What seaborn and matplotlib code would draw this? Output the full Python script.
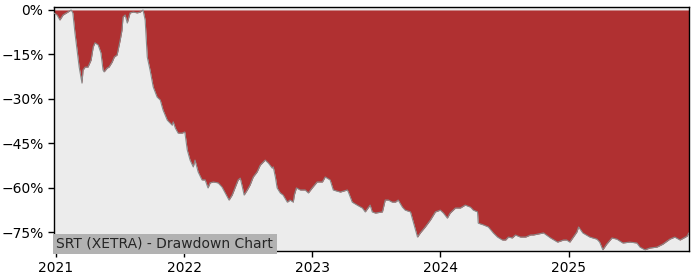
import matplotlib
matplotlib.use("Agg")
import matplotlib.pyplot as plt
import matplotlib.dates as mdates
from matplotlib.ticker import FuncFormatter, FixedLocator
import seaborn as sns
import pandas as pd

dates = [
    "2020-12-26", "2021-01-04", "2021-01-12", "2021-01-21", "2021-02-04", "2021-02-13",
    "2021-02-18", "2021-02-24", "2021-03-02", "2021-03-08", "2021-03-16", "2021-03-19",
    "2021-03-25", "2021-04-02", "2021-04-11", "2021-04-17", "2021-04-22", "2021-05-01",
    "2021-05-09", "2021-05-15", "2021-05-18", "2021-05-27", "2021-06-01", "2021-06-10",
    "2021-06-16", "2021-06-24", "2021-07-03", "2021-07-08", "2021-07-11", "2021-07-17",
    "2021-07-23", "2021-07-31", "2021-08-09", "2021-08-20", "2021-08-29", "2021-09-06",
    "2021-09-12", "2021-09-18", "2021-09-26", "2021-10-05", "2021-10-16", "2021-10-25",
    "2021-11-02", "2021-11-14", "2021-11-28", "2021-12-01", "2021-12-07", "2021-12-15",
    "2021-12-26", "2022-01-03", "2022-01-10", "2022-01-18", "2022-01-27", "2022-02-01",
    "2022-02-10", "2022-02-21", "2022-03-02", "2022-03-10", "2022-03-16", "2022-03-25",
    "2022-04-08", "2022-04-19", "2022-04-28", "2022-05-09", "2022-05-18", "2022-05-27",
    "2022-06-04", "2022-06-10", "2022-06-16", "2022-06-21", "2022-06-30", "2022-07-08",
    "2022-07-17", "2022-07-28", "2022-08-06", "2022-08-20", "2022-08-29", "2022-09-09",
    "2022-09-12", "2022-09-18", "2022-09-23", "2022-10-02", "2022-10-10", "2022-10-22",
    "2022-10-30", "2022-11-08", "2022-11-11", "2022-11-17", "2022-11-28", "2022-12-12",
    "2022-12-21", "2023-01-01", "2023-01-15", "2023-01-30", "2023-02-07", "2023-02-21",
    "2023-03-02", "2023-03-22", "2023-04-11", "2023-04-14", "2023-04-25", "2023-05-09",
    "2023-05-24", "2023-06-01", "2023-06-15", "2023-06-21", "2023-06-30", "2023-07-20",
    "2023-07-28", "2023-08-06", "2023-08-17", "2023-08-26", "2023-09-03", "2023-09-15",
    "2023-09-23", "2023-10-08", "2023-10-16", "2023-10-28", "2023-11-05", "2023-11-19",
    "2023-12-04", "2023-12-18", "2024-01-01", "2024-01-10", "2024-01-21", "2024-01-29",
    "2024-02-13", "2024-02-27", "2024-03-12", "2024-03-27", "2024-04-04", "2024-04-16",
    "2024-04-18", "2024-05-03", "2024-05-17", "2024-05-31", "2024-06-12", "2024-06-26",
    "2024-07-05", "2024-07-13", "2024-07-24", "2024-08-02", "2024-08-16", "2024-08-31",
    "2024-09-14", "2024-09-22", "2024-10-21", "2024-11-10", "2024-11-30", "2024-12-17",
    "2024-12-26", "2025-01-04", "2025-01-24", "2025-01-29", "2025-02-10", "2025-03-02",
    "2025-03-22", "2025-03-30", "2025-04-08", "2025-04-19", "2025-05-04", "2025-05-18",
    "2025-06-04", "2025-06-24", "2025-07-14", "2025-07-23", "2025-08-06", "2025-08-20",
    "2025-09-09", "2025-09-26", "2025-10-16", "2025-10-30", "2025-11-14", "2025-12-04",
    "2025-12-09",
]
drawdown_pct = [
    -1.0, -1.7, -3.4, -1.7, -0.7, 0.0,
    -1.0, -7.8, -13.5, -19.3, -24.7, -20.3,
    -19.3, -19.3, -16.9, -12.5, -11.1, -11.8,
    -14.5, -20.3, -20.9, -19.6, -19.3, -17.6,
    -15.9, -15.2, -10.1, -6.8, -2.4, -1.7,
    -4.4, -1.0, -0.7, -1.0, -0.7, 0.0,
    -3.4, -15.9, -20.3, -26.0, -29.4, -30.4,
    -33.8, -37.2, -38.9, -37.8, -39.9, -41.6,
    -41.6, -41.2, -47.3, -50.7, -53.0, -50.7,
    -54.7, -57.4, -57.4, -60.1, -58.4, -58.1,
    -58.4, -59.8, -61.8, -64.2, -62.5, -59.8,
    -57.4, -56.8, -59.8, -62.5, -60.8, -59.1,
    -56.4, -54.7, -52.4, -50.7, -51.7, -53.4,
    -53.0, -56.4, -60.1, -61.8, -62.5, -64.9,
    -64.2, -64.9, -62.5, -60.1, -60.8, -60.8,
    -61.8, -60.1, -58.1, -58.1, -56.4, -57.4,
    -60.8, -61.5, -60.8, -61.5, -64.9, -65.9,
    -66.9, -68.2, -65.9, -68.2, -68.6, -68.2,
    -64.2, -64.2, -64.9, -64.9, -64.2, -66.6,
    -67.6, -68.2, -71.6, -76.7, -75.3, -73.3,
    -70.9, -68.2, -67.6, -68.6, -70.3, -68.6,
    -66.9, -66.9, -65.9, -66.6, -67.6, -68.2,
    -72.0, -72.6, -73.3, -75.3, -76.7, -77.7,
    -77.7, -76.7, -77.0, -76.0, -76.7, -76.7,
    -76.0, -76.0, -75.3, -77.0, -78.4, -77.7,
    -77.7, -78.4, -75.0, -73.3, -75.3, -76.7,
    -77.4, -78.4, -81.0, -79.1, -77.0, -77.4,
    -78.7, -78.4, -78.7, -80.1, -81.0, -80.4,
    -80.1, -79.1, -77.4, -76.7, -77.7, -76.4,
    -75.3,
]
y_ticks = [0, -15, -30, -45, -60, -75]
x_tick_labels = ["2021", "2022", "2023", "2024", "2025"]
title_text = "SRT (XETRA) - Drawdown Chart"

df = pd.DataFrame({"date": pd.to_datetime(dates), "drawdown": drawdown_pct})

sns.set_style("white")
plt.rcParams["font.family"] = ["DejaVu Sans"]

fig = plt.figure(figsize=(7, 2.8), dpi=100)
ax = fig.add_axes([0.077, 0.1036, 0.907, 0.8714])
ax.set_facecolor("#ececec")

ax.fill_between(df["date"], df["drawdown"], 0, color="#b03031", linewidth=0, zorder=2)
sns.lineplot(data=df, x="date", y="drawdown", ax=ax, color="#8a8a8a", linewidth=0.8, zorder=3)

ax.set_xlim(df["date"].iloc[0], df["date"].iloc[-1])
ax.set_ylim(-81.4, 1.0)
ax.yaxis.set_major_locator(FixedLocator(y_ticks))
ax.yaxis.set_major_formatter(FuncFormatter(lambda v, p: f"{v:.0f}%".replace("-", "\u2212")))
ax.set_xticks(pd.to_datetime([f"{y}-01-01" for y in x_tick_labels]))
ax.set_xticklabels(x_tick_labels)
ax.set_xlabel("")
ax.set_ylabel("")
ax.tick_params(axis="both", labelsize=10, length=4, width=1, colors="black", direction="out",
               left=True, bottom=True)
for s in ax.spines.values():
    s.set_visible(True)
    s.set_color("black")
    s.set_linewidth(1.0)

ax.text(0.004, 0.0, title_text, transform=ax.transAxes, fontsize=10, ha="left", va="bottom",
        zorder=5, bbox=dict(facecolor="#b2b2b2", edgecolor="none", pad=2.5))

fig.savefig("out.png", dpi=100)
